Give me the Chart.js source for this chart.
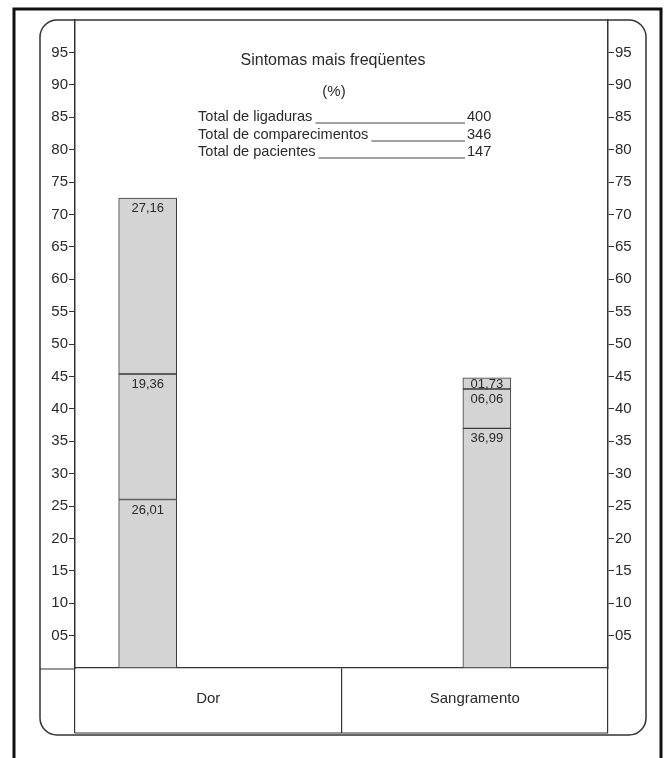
<!DOCTYPE html>
<html lang="pt">
<head>
<meta charset="UTF-8">
<title>Sintomas mais freqüentes</title>
<script src="https://cdn.jsdelivr.net/npm/chart.js"></script>
<style>
  body { margin: 0; background: #fff; }
  .chart-box { width: 669px; height: 758px; }
</style>
</head>
<body>
<div class="chart-box"><canvas id="sintomasChart"></canvas></div>
<script>
// valores (segmentos de baixo para cima)
const categories = ["Dor", "Sangramento"];
const dorValues = [26.01, 19.36, 27.16];
const sangramentoValues = [36.99, 6.06, 1.73];
const totalLabels = ["Total de ligaduras", "Total de comparecimentos", "Total de pacientes"];
const totalValues = [400, 346, 147];
const chartTitle = "Sintomas mais freqüentes";
const chartUnit = "(%)";

// posição das barras no eixo (11 casas, Dor na 1, Sangramento na 8)
const slotCount = 11;
const barSlots = [1, 8];
const barWidths = [58, 48];

const FONT = '"Liberation Sans", Arial, sans-serif';
const INK = "#2a2a2a";

function fmt(v) {
    return v.toFixed(2).replace(".", ",").padStart(5, "0");
}

const datasets = [];
[dorValues, sangramentoValues].forEach((values, c) => {
    values.forEach(v => {
        const data = new Array(slotCount).fill(null);
        data[barSlots[c]] = v;
        datasets.push({
            data: data,
            barThickness: barWidths[c],
            backgroundColor: "#d4d4d4",
            borderColor: "#3a3a3a",
            borderWidth: 1,
            borderSkipped: false,
            xAxisID: "x",
            yAxisID: "y"
        });
    });
});

// moldura, cantos arredondados e linhas da tabela de baixo
const framePlugin = {
    id: "frame",
    beforeDraw(chart) {
        const ctx = chart.ctx;
        const area = chart.chartArea;
        const x2 = chart.scales.x2;
        ctx.save();
        ctx.strokeStyle = "#111";
        ctx.lineWidth = 3;
        ctx.beginPath();
        ctx.moveTo(14, 758);
        ctx.lineTo(14, 9);
        ctx.lineTo(661, 9);
        ctx.lineTo(661, 758);
        ctx.stroke();

        ctx.strokeStyle = "#333";
        ctx.lineWidth = 1.5;
        ctx.beginPath();
        ctx.roundRect(40, 20, 606, 715, 17);
        ctx.stroke();

        ctx.lineWidth = 1.2;
        ctx.beginPath();
        ctx.moveTo(40, area.bottom + 1);
        ctx.lineTo(area.left, area.bottom + 1);
        ctx.moveTo(area.left, x2.bottom);
        ctx.lineTo(area.right, x2.bottom);
        ctx.stroke();
        ctx.restore();
    },
    afterDraw(chart) {
        const ctx = chart.ctx;
        ctx.save();
        ctx.fillStyle = INK;
        ctx.textBaseline = "middle";
        ctx.textAlign = "center";
        ctx.font = "16px " + FONT;
        ctx.fillText(chartTitle, 333, 61);
        ctx.font = "15px " + FONT;
        ctx.fillText(chartUnit, 334, 92);

        ctx.textAlign = "left";
        ctx.font = "14.6px " + FONT;
        ctx.strokeStyle = "#444";
        ctx.lineWidth = 1;
        const rowY = [117, 135, 152];
        totalLabels.forEach((label, i) => {
            ctx.fillText(label, 198, rowY[i]);
            const end = 198 + ctx.measureText(label).width;
            ctx.beginPath();
            ctx.moveTo(end + 3, rowY[i] + 6);
            ctx.lineTo(465, rowY[i] + 6);
            ctx.stroke();
            ctx.fillText(String(totalValues[i]), 467, rowY[i]);
        });
        ctx.restore();
    }
};

// valores escritos no topo de cada segmento
const segmentLabels = {
    id: "segmentLabels",
    afterDatasetsDraw(chart) {
        const ctx = chart.ctx;
        ctx.save();
        ctx.font = "13px " + FONT;
        ctx.fillStyle = INK;
        ctx.textAlign = "center";
        ctx.textBaseline = "top";
        chart.data.datasets.forEach((ds, i) => {
            chart.getDatasetMeta(i).data.forEach((el, j) => {
                const v = ds.data[j];
                if (v == null) return;
                const h = el.base - el.y;
                ctx.fillText(fmt(v), el.x, el.y + (h < 16 ? 0 : 4));
            });
        });
        ctx.restore();
    }
};

function yAxis(position) {
    return {
        type: "linear",
        position: position,
        min: 0,
        max: 100,
        afterFit(scale) { scale.width = 40; },
        grid: { drawOnChartArea: false, drawTicks: true, tickLength: 6, color: "#333", lineWidth: 1 },
        border: { display: true, color: "#333", width: 1.5 },
        ticks: {
            stepSize: 5,
            padding: 1,
            color: INK,
            font: { family: FONT, size: 15 },
            callback(value) {
                if (value === 0 || value === 100) return null;
                return String(value).padStart(2, "0");
            }
        }
    };
}

new Chart(document.getElementById("sintomasChart"), {
    type: "bar",
    data: {
        labels: new Array(slotCount).fill(""),
        datasets: datasets
    },
    options: {
        responsive: true,
        maintainAspectRatio: false,
        animation: false,
        layout: { padding: { left: 35, right: 21, top: 20, bottom: 25 } },
        plugins: {
            legend: { display: false },
            tooltip: { enabled: false },
            title: { display: false }
        },
        scales: {
            x: { type: "category", stacked: true, display: false },
            x2: {
                type: "category",
                labels: categories,
                position: "bottom",
                offset: true,
                afterFit(scale) { scale.height = 65; },
                grid: { offset: true, drawOnChartArea: false, tickLength: 65, color: "#333", lineWidth: 1.2 },
                border: { display: true, color: "#333", width: 1.2 },
                ticks: {
                    padding: -43,
                    color: INK,
                    font: { family: FONT, size: 15 }
                }
            },
            y: Object.assign(yAxis("left"), { stacked: true }),
            y2: yAxis("right")
        }
    },
    plugins: [framePlugin, segmentLabels]
});
</script>
</body>
</html>
